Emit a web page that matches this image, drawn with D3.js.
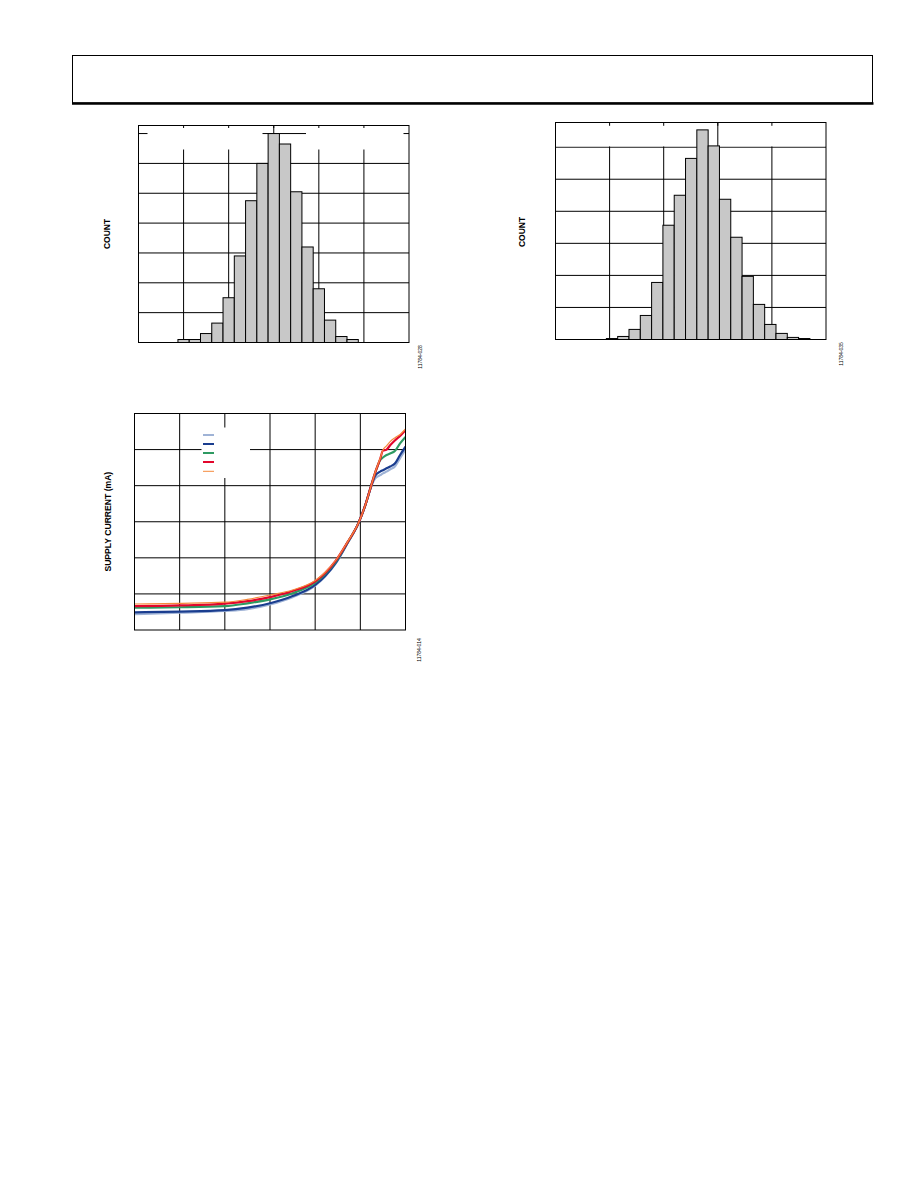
<!DOCTYPE html>
<html><head><meta charset="utf-8">
<script src="https://cdn.jsdelivr.net/npm/d3@7/dist/d3.min.js"></script>
<style>body{margin:0;background:#fff} svg{display:block}</style>
</head><body>
<script>
// ---------- DATA ----------
// Histogram 1 (top left): bin centres (grid units) and counts
const hist1Centers = [1.0,1.25,1.5,1.75,2.0,2.25,2.5,2.75,3.0,3.25,3.5,3.75,4.0,4.25,4.5,4.75];
const hist1BinWidth = 0.25;
const hist1Counts = [2,2,6,13,30,58,95,120,140,133,101,64,36,15,4,2];

// Histogram 2 (top right)
const hist2Centers = [1.045,1.254,1.463,1.672,1.881,2.090,2.299,2.508,2.717,2.926,3.135,3.344,3.553,3.762,3.971,4.180,4.389,4.598];
const hist2BinWidth = 0.209;
const hist2Counts = [0.6,1.9,6.3,15,35.6,71.3,90,113,130.8,120.8,87.5,63.8,39.4,21.9,9.4,3.8,1.3,0.6];

// Supply current chart (bottom left)
const curveX          = [0,1,2,2.5,3,3.5,4,4.22,4.46,4.71,4.96,5.11,5.24,5.33,5.44,5.5,5.58,5.66,5.77,5.88,6];
const seriesLightBlue = [0.44,0.48,0.53,0.58,0.71,0.91,1.23,1.48,1.85,2.39,2.96,3.45,3.97,4.20,4.29,4.34,4.39,4.45,4.54,4.76,5.00];
const seriesNavy      = [0.49,0.51,0.55,0.62,0.74,0.94,1.25,1.50,1.87,2.40,2.97,3.46,3.99,4.28,4.39,4.43,4.48,4.53,4.62,4.85,5.08];
const seriesGreen     = [0.62,0.63,0.66,0.74,0.85,1.02,1.31,1.55,1.90,2.41,2.97,3.46,4.00,4.36,4.71,4.78,4.85,4.89,4.97,5.17,5.35];
const seriesRed       = [0.66,0.68,0.73,0.80,0.91,1.08,1.35,1.58,1.93,2.42,2.97,3.46,4.00,4.37,4.74,4.97,5.00,5.12,5.26,5.38,5.54];
const seriesOrange    = [0.72,0.74,0.77,0.85,0.97,1.11,1.37,1.60,1.94,2.43,2.97,3.46,4.00,4.38,4.76,4.99,5.10,5.22,5.33,5.42,5.57];
const seriesColors = ["#9fb3d6","#1a3d8f","#2e9a62","#e2062c","#f58a3c"];
const seriesWidths = [2.2,2.2,2.2,2.2,1.2];

const gridX1 = [1,2,3,4,5];
const gridY1 = [20,40,60,80,100,120,140];
const gridX2 = [1,2,3,4];
const gridY2 = [20,40,60,80,100,120];
const gridX3 = [1,2,3,4,5];
const gridY3 = [1,2,3,4,5];

// ---------- DRAW ----------
const svg = d3.select("body").append("svg").attr("width",918).attr("height",1188);
const FONT = "'Liberation Sans', Arial, sans-serif";

// header box
svg.append("rect").attr("x",72.5).attr("y",55.5).attr("width",800).attr("height",47.5)
  .attr("fill","none").attr("stroke","#000").attr("stroke-width",1);
svg.append("line").attr("x1",72).attr("x2",873.5).attr("y1",103.5).attr("y2",103.5)
  .attr("stroke","#000").attr("stroke-width",2.5);

function gridlines(g, x, y, gx, gy) {
  const [x0,x1] = x.range(), [y0,y1] = y.range();
  g.selectAll(null).data(gx).join("line")
    .attr("x1",d=>x(d)).attr("x2",d=>x(d)).attr("y1",y0).attr("y2",y1)
    .attr("stroke","#000").attr("stroke-width",1);
  g.selectAll(null).data(gy).join("line")
    .attr("x1",x0).attr("x2",x1).attr("y1",d=>y(d)).attr("y2",d=>y(d))
    .attr("stroke","#000").attr("stroke-width",1);
}
function frame(g, x, y) {
  const [x0,x1] = x.range(), [y0,y1] = y.range();
  g.append("rect").attr("x",x0).attr("y",y1).attr("width",x1-x0).attr("height",y0-y1)
    .attr("fill","none").attr("stroke","#000").attr("stroke-width",1);
}
function bars(g, x, y, centers, w, counts) {
  g.selectAll(null).data(centers).join("rect")
    .attr("x",d=>x(d-w/2)).attr("width",d=>x(d+w/2)-x(d-w/2))
    .attr("y",(d,i)=>y(counts[i])).attr("height",(d,i)=>y(0)-y(counts[i]))
    .attr("fill","#c8c8c8").attr("stroke","#000").attr("stroke-width",1);
}
function vlabel(text, cx, cy, size, weight) {
  svg.append("text").attr("transform",`translate(${cx},${cy}) rotate(-90)`)
    .attr("text-anchor","middle").attr("dominant-baseline","central")
    .attr("font-family",FONT).attr("font-size",size).attr("font-weight",weight)
    .attr("fill","#000").text(text);
}

// ---- Chart 1 ----
{
  const x = d3.scaleLinear().domain([0,6]).range([138.5,409]);
  const y = d3.scaleLinear().domain([0,145.4]).range([342.5,125.5]);
  const g = svg.append("g");
  gridlines(g,x,y,gridX1,gridY1);
  // white annotation area
  g.append("rect").attr("x",147.5).attr("y",128).attr("width",256).attr("height",21.5).attr("fill","#fff");
  g.append("line").attr("x1",262.5).attr("x2",306).attr("y1",y(140)).attr("y2",y(140)).attr("stroke","#000");
  g.append("line").attr("x1",x(3)).attr("x2",x(3)).attr("y1",y.range()[1]).attr("y2",y(140)).attr("stroke","#000");
  bars(g,x,y,hist1Centers,hist1BinWidth,hist1Counts);
  frame(g,x,y);
  vlabel("COUNT",106.7,234,8.5,"bold");
  vlabel("11784-028",420,357,5,"normal");
}

// ---- Chart 2 ----
{
  const x = d3.scaleLinear().domain([0,5]).range([555.5,826]);
  const y = d3.scaleLinear().domain([0,135.4]).range([339.5,122.5]);
  const g = svg.append("g");
  gridlines(g,x,y,gridX2,gridY2);
  g.append("rect").attr("x",556).attr("y",125.8).attr("width",269.5).attr("height",20.6).attr("fill","#fff");
  g.append("line").attr("x1",x(3)).attr("x2",x(3)).attr("y1",y.range()[1]).attr("y2",y(120)).attr("stroke","#000");
  bars(g,x,y,hist2Centers,hist2BinWidth,hist2Counts);
  frame(g,x,y);
  vlabel("COUNT",521.7,232,8.5,"bold");
  vlabel("11784-035",841,354,5,"normal");
}

// ---- Chart 3 ----
{
  const x = d3.scaleLinear().domain([0,6]).range([134.5,405.5]);
  const y = d3.scaleLinear().domain([0,6]).range([630,413.5]);
  const g = svg.append("g");
  gridlines(g,x,y,gridX3,gridY3);
  // legend box
  g.append("rect").attr("x",201.5).attr("y",427.5).attr("width",48.5).attr("height",50.5).attr("fill","#fff");
  const legendY = [435,444,453,462,471.3];
  seriesColors.forEach((c,i)=>{
    g.append("line").attr("x1",203).attr("x2",214).attr("y1",legendY[i]).attr("y2",legendY[i])
      .attr("stroke",c).attr("stroke-width",seriesWidths[i]===1.2?1:2);
  });
  const allSeries = [seriesLightBlue,seriesNavy,seriesGreen,seriesRed,seriesOrange];
  const line = d3.line().x((d,i)=>x(curveX[i])).y(d=>y(d)).curve(d3.curveMonotoneX);
  svg.append("clipPath").attr("id","c3").append("rect")
    .attr("x",134.5).attr("y",413.5).attr("width",271).attr("height",216.5);
  allSeries.forEach((s,i)=>{
    g.append("path").attr("d",line(s)).attr("fill","none")
      .attr("stroke",seriesColors[i]).attr("stroke-width",seriesWidths[i])
      .attr("clip-path","url(#c3)");
  });
  frame(g,x,y);
  vlabel("SUPPLY CURRENT (mA)",108,521.7,8.6,"bold");
  vlabel("11784-014",419,650,5,"normal");
}
</script>
</body></html>
